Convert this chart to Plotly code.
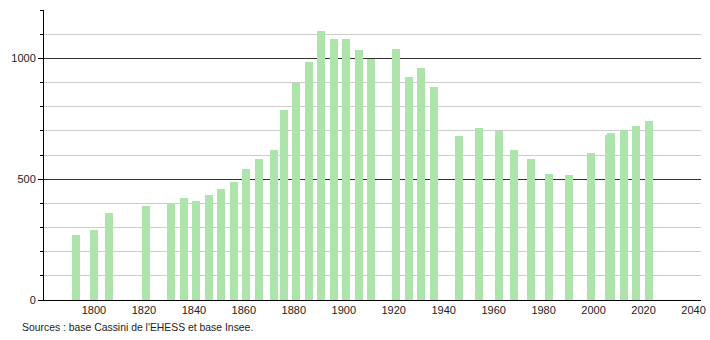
import plotly.graph_objects as go

years = [1793, 1800, 1806, 1821, 1831, 1836, 1841, 1846, 1851, 1856,
         1861, 1866, 1872, 1876, 1881, 1886, 1891, 1896, 1901, 1906,
         1911, 1921, 1926, 1931, 1936, 1946, 1954, 1962, 1968, 1975,
         1982, 1990, 1999, 2006, 2007, 2012, 2017, 2022]
population = [270, 288, 362, 390, 398, 423, 408, 433, 461, 490,
              544, 584, 622, 785, 899, 985, 1113, 1082, 1079, 1033,
              996, 1040, 924, 958, 882, 678, 710, 698, 622, 585,
              523, 519, 610, 683, 690, 705, 722, 739]
x_ticks = list(range(1800, 2041, 20))
y_ticks = [0, 500, 1000]
source_text = "Sources : base Cassini de l'EHESS et base Insee."

W, H = 710, 340
ml, mr, mt, mb = 44, 9, 10, 40

fig = go.Figure()
fig.add_trace(go.Bar(
    x=years, y=population, width=3.2,
    marker=dict(color="rgb(172,228,172)", line=dict(width=0)),
    hoverinfo="x+y",
))

fig.update_layout(
    width=W, height=H,
    margin=dict(l=ml, r=mr, t=mt, b=mb, autoexpand=False),
    paper_bgcolor="white", plot_bgcolor="white",
    font=dict(family="Liberation Sans, Arial, sans-serif", size=11, color="#222"),
    showlegend=False,
    bargap=0,
)
fig.update_xaxes(
    range=[1780, 2043], tickvals=x_ticks, ticks="", showgrid=False,
    showline=True, linecolor="black", linewidth=1, zeroline=False,
    automargin=False, ticklabelstandoff=0,
    tickfont=dict(size=11, color="#222"),
)
fig.update_yaxes(
    range=[0, 1200], tickvals=y_ticks, ticks="outside", ticklen=5,
    tickcolor="black", showline=True, linecolor="black", linewidth=1,
    showgrid=True, gridcolor="#333", gridwidth=1, zeroline=False,
    automargin=False,
    minor=dict(dtick=100, showgrid=True, gridcolor="#cccccc", gridwidth=1,
               ticks="outside", ticklen=3, tickcolor="black"),
    tickfont=dict(size=11, color="#222"),
)
fig.add_annotation(
    text=source_text, xref="paper", yref="paper",
    x=(20 - ml) / (W - ml - mr), y=-(327 - (H - mb)) / (H - mt - mb),
    xanchor="left", yanchor="middle", showarrow=False,
    font=dict(size=10.4, color="#222"),
)
fig.write_html("out.html")
